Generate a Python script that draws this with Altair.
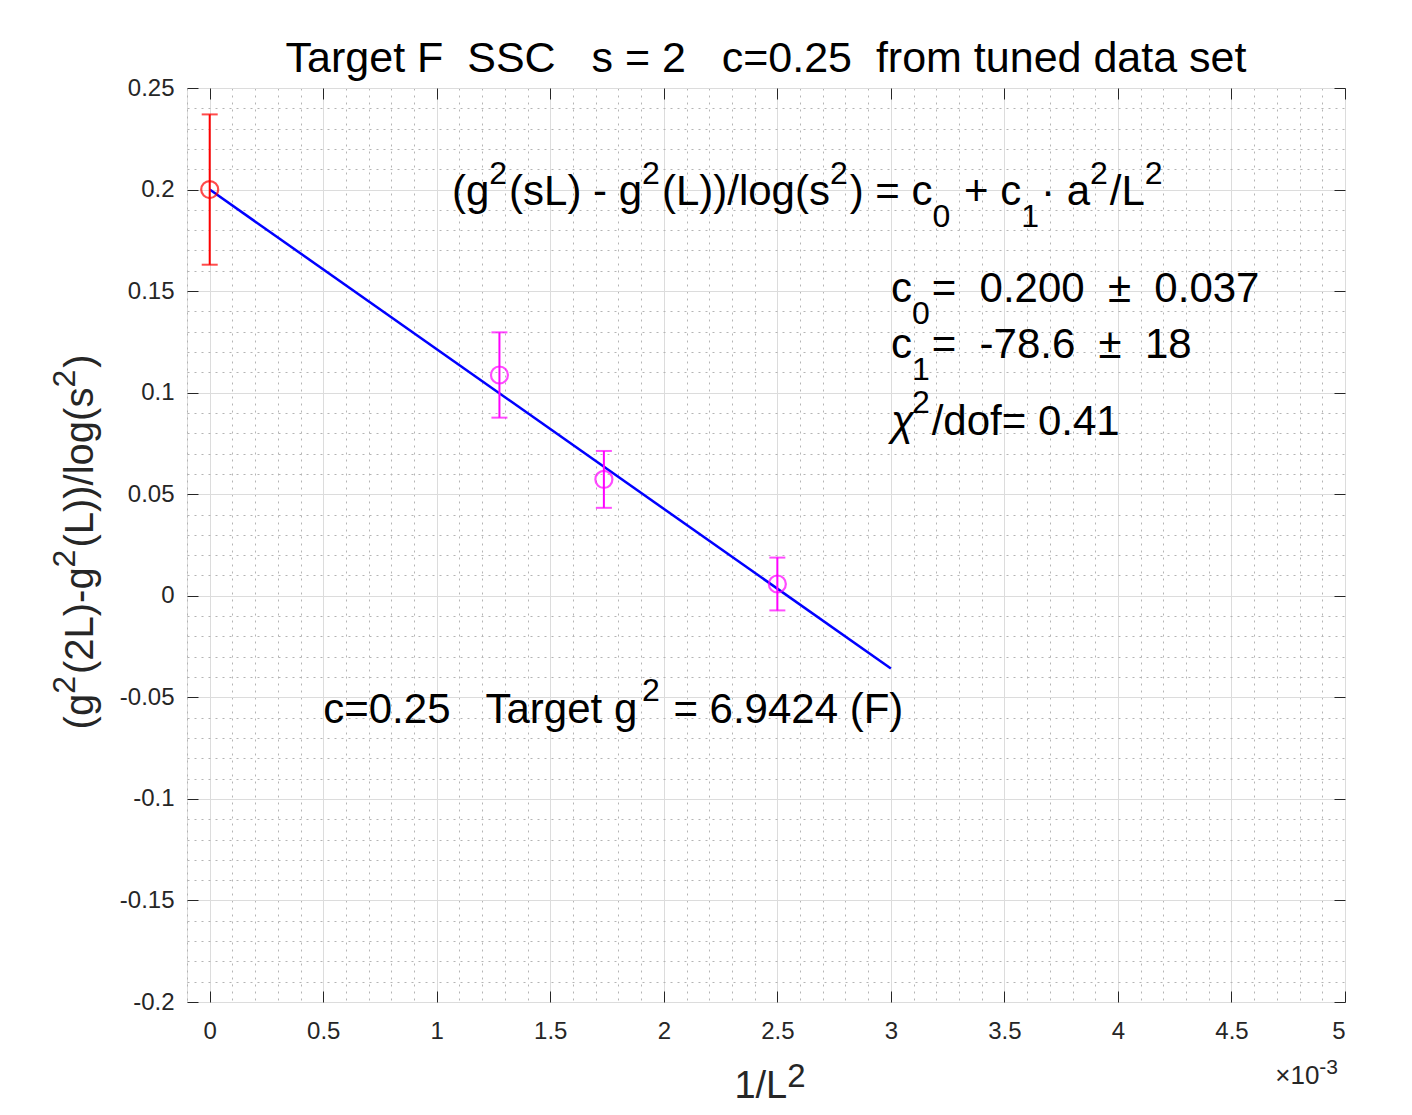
import altair as alt
import pandas as pd

# ---- data ----
pt_x = [0.0, 0.001276, 0.001736, 0.0025]
pt_y = [0.200, 0.1087, 0.0573, 0.0058]
pt_err = [0.037, 0.021, 0.014, 0.013]
pt_group = ["target", "data", "data", "data"]

fit_x = [0.0, 0.003]
fit_y = [0.200, -0.0358]

x_ticks = [0, 0.0005, 0.001, 0.0015, 0.002, 0.0025, 0.003, 0.0035, 0.004, 0.0045, 0.005]
y_ticks = [-0.2, -0.15, -0.1, -0.05, 0, 0.05, 0.1, 0.15, 0.2, 0.25]

title_text = "Target F\u00a0\u00a0SSC\u00a0\u00a0\u00a0s = 2\u00a0\u00a0\u00a0c=0.25\u00a0\u00a0from tuned data set"

# annotation texts as (piece, role): n = normal, it = italic, sup, sub
eq_segs = [("(g", "n"), ("2", "sup"), ("(sL) - g", "n"), ("2", "sup"),
           ("(L))/log(s", "n"), ("2", "sup"), (") = c", "n"), ("0", "sub"),
           (" + c", "n"), ("1", "sub"), ("\u00b7 a", "n"), ("2", "sup"),
           ("/L", "n"), ("2", "sup")]
c0_segs = [("c", "n"), ("0", "sub"), ("=  0.200  \u00b1  0.037", "n")]
c1_segs = [("c", "n"), ("1", "sub"), ("=  -78.6  \u00b1  18", "n")]
chi_segs = [("\u03c7", "it"), ("2", "sup"), ("/dof= 0.41", "n")]
tg_segs = [("c=0.25   Target g", "n"), ("2", "sup"), (" = 6.9424 (F)", "n")]
xt_segs = [("1/L", "n"), ("2", "sup")]
yt_segs = [("(g", "n"), ("2", "sup"), ("(2L)-g", "n"), ("2", "sup"),
           ("(L))/log(s", "n"), ("2", "sup"), (")", "n")]
ex_segs = [("\u00d710", "n"), ("-3", "sup")]

# ---- layout ----
W, H = 1158, 914
XD = [-0.0001, 0.005]
YD = [-0.2, 0.25]
PX = W / (XD[1] - XD[0])
PY = H / (YD[1] - YD[0])
FONT = "Liberation Sans"

# Arial / Liberation Sans advance widths (per 1000 em)
ADV = {" ": 278, "(": 333, ")": 333, "+": 584, "-": 333, ".": 278, "/": 278,
       "=": 584, "\u00b1": 549, "\u00b7": 333, "\u00d7": 584, "\u03c7": 500,
       "F": 611, "L": 556, "T": 611, "a": 556, "c": 500, "d": 556, "e": 556,
       "f": 278, "g": 556, "l": 222, "o": 556, "r": 333, "s": 500, "t": 278}


def adv(t):
    return sum(ADV.get(ch, 556) for ch in t) / 1000.0


def lay(segs, x0, y0, big, small, rise, drop, anchor="left", vertical=False, gap=2):
    big_roles = ("n", "it")
    ws = [adv(t) * (big if r in big_roles else small) + (0 if r in big_roles else gap)
          for t, r in segs]
    tot = sum(ws)
    pos = {"left": 0.0, "center": -tot / 2, "right": -tot}[anchor]
    rows = []
    for (t, r), w in zip(segs, ws):
        up = rise if r == "sup" else (-drop if r == "sub" else 0)
        size = big if r in big_roles else small
        lead = len(t) - len(t.lstrip(" "))
        p = pos + adv(" " * lead) * size
        txt = t.strip(" ").replace(" ", "\u00a0")
        st = "italic" if r == "it" else "normal"
        if vertical:
            rows.append({"t": txt, "x": x0 - up / PX, "y": y0 + p / PY, "s": size, "st": st})
        else:
            rows.append({"t": txt, "x": x0 + p / PX, "y": y0 + up / PY, "s": size, "st": st})
        pos += w
    return rows


ann_rows = (lay(eq_segs, 0.001067, 0.1924, 42, 32, 21, 22)
            + lay(c0_segs, 0.003, 0.1448, 42, 32, 21, 22)
            + lay(c1_segs, 0.003, 0.1169, 42, 32, 21, 22)
            + lay(chi_segs, 0.003, 0.0792, 42, 32, 22, 22)
            + lay(tg_segs, 0.0005, -0.0625, 42, 32, 22, 22))
lab_rows = (lay(xt_segs, 0.002472, -0.2473, 38, 33, 11, 0, anchor="center")
            + lay(ex_segs, 0.004978, -0.2404, 26, 21, 10, 0, anchor="right"))
yt_rows = lay(yt_segs, -0.000512, 0.0265, 40, 32, 18, 0, anchor="center", vertical=True)

x_minor = [round(-0.0001 + i * 0.0001, 5) for i in range(52)]
x_minor = [v for v in x_minor if round(v * 10000) % 5 != 0]
y_minor = [round(-0.2 + i * 0.01, 3) for i in range(46)]
y_minor = [v for v in y_minor if round(v * 100) % 5 != 0]

pts = pd.DataFrame({"x": pt_x, "y": pt_y, "err": pt_err, "g": pt_group})
pts["lo"] = pts["y"] - pts["err"]
pts["hi"] = pts["y"] + pts["err"]
fit = pd.DataFrame({"x": fit_x, "y": fit_y})

xs = alt.Scale(domain=XD, nice=False, zero=False)
ys = alt.Scale(domain=YD, nice=False, zero=False)
col = alt.Scale(domain=["target", "data"], range=["#ff0000", "#ff00ff"])


def minor_axis(orient, vals):
    return alt.Axis(orient=orient, values=vals, grid=True, gridColor="#b4b4b4",
                    gridDash=[2, 5], gridWidth=1, labels=False, ticks=False,
                    domain=False, title="")


def tick_axis(orient, vals, offset):
    return alt.Axis(orient=orient, values=vals, grid=False, labels=False, ticks=True,
                    tickSize=11, tickColor="#262626", tickWidth=1, domain=False,
                    offset=offset, title="")


x_main = alt.Axis(orient="bottom", values=x_ticks, grid=True, gridColor="#dcdcdc",
                  gridWidth=1, ticks=False, tickSize=0, domain=False,
                  labelExpr="'' + round(datum.value * 10000) / 10",
                  labelFont=FONT, labelFontSize=24, labelColor="#262626",
                  labelPadding=17, title="")
y_main = alt.Axis(orient="left", values=y_ticks, grid=True, gridColor="#dcdcdc",
                  gridWidth=1, ticks=False, tickSize=0, domain=False,
                  labelExpr="'' + round(datum.value * 100) / 100",
                  labelFont=FONT, labelFontSize=24, labelColor="#262626",
                  labelPadding=13, title="")

line = alt.Chart(fit).mark_line(color="#0000ff", strokeWidth=2.5).encode(
    x=alt.X("x:Q", scale=xs, axis=minor_axis("bottom", x_minor)),
    y=alt.Y("y:Q", scale=ys, axis=minor_axis("left", y_minor)),
)

bars = alt.Chart(pts).mark_rule(strokeWidth=2).encode(
    x=alt.X("x:Q", scale=xs, axis=x_main),
    y=alt.Y("lo:Q", scale=ys, axis=y_main),
    y2="hi:Q",
    color=alt.Color("g:N", scale=col, legend=None),
)

cap_lo = alt.Chart(pts).mark_tick(orient="horizontal", size=16, thickness=2).encode(
    x=alt.X("x:Q", scale=xs, axis=tick_axis("top", x_ticks, -H)),
    y=alt.Y("lo:Q", scale=ys, axis=tick_axis("right", y_ticks, -W)),
    color=alt.Color("g:N", scale=col, legend=None),
)

cap_hi = alt.Chart(pts).mark_tick(orient="horizontal", size=16, thickness=2).encode(
    x=alt.X("x:Q", scale=xs, axis=tick_axis("bottom", x_ticks, -H)),
    y=alt.Y("hi:Q", scale=ys, axis=tick_axis("left", y_ticks, -W)),
    color=alt.Color("g:N", scale=col, legend=None),
)

points = alt.Chart(pts).mark_point(shape="circle", filled=False, size=289, strokeWidth=2.2).encode(
    x=alt.X("x:Q", scale=xs, axis=None),
    y=alt.Y("y:Q", scale=ys, axis=None),
    color=alt.Color("g:N", scale=col, legend=None),
)


def text_layer(rows, color, angle=0, style="normal"):
    df = pd.DataFrame([r for r in rows if r["st"] == style])
    return alt.Chart(df).mark_text(
        align="left", baseline="alphabetic", font=FONT, color=color, angle=angle,
        fontStyle=style
    ).encode(
        x=alt.X("x:Q", scale=xs, axis=None),
        y=alt.Y("y:Q", scale=ys, axis=None),
        text="t:N",
        size=alt.Size("s:Q", scale=None),
    )


ann_t = text_layer(ann_rows, "#000000")
ann_i = text_layer(ann_rows, "#000000", style="italic")
lab_t = text_layer(lab_rows, "#262626")
yt_t = text_layer(yt_rows, "#262626", angle=270)

chart = alt.layer(line, bars, cap_lo, cap_hi, points, ann_t, ann_i, lab_t, yt_t).resolve_axis(
    x="independent", y="independent"
).properties(
    width=W, height=H,
    title=alt.TitleParams(title_text, font=FONT, fontSize=43, fontWeight="normal",
                          color="#000000", anchor="middle", frame="group",
                          baseline="alphabetic", offset=12, dy=51),
    autosize=alt.AutoSizeParams(type="none"),
    padding={"left": 187, "top": 88, "right": 67, "bottom": 113},
).configure_view(stroke="#262626", strokeWidth=1).configure(background="white")

chart.save("out.html", embed_options={"renderer": "svg", "actions": False})
